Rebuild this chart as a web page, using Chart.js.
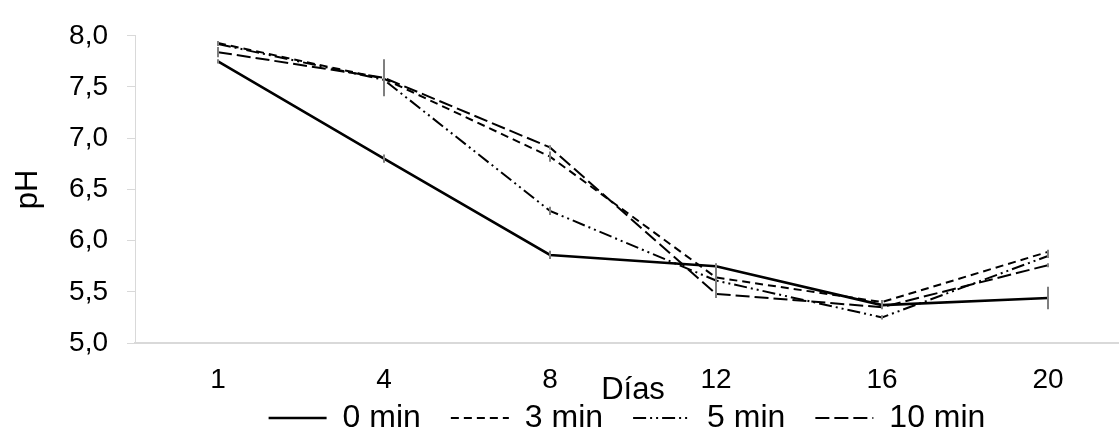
<!DOCTYPE html>
<html>
<head>
<meta charset="utf-8">
<script src="https://cdn.jsdelivr.net/npm/chart.js@4/dist/chart.umd.min.js"></script>
<style>
  html, body { margin: 0; padding: 0; background: #fff; overflow: hidden; }
  canvas { display: block; }
</style>
</head>
<body>
<canvas id="c" width="1135" height="470"></canvas>
<script>
// ---- data ----
const days = ['1', '4', '8', '12', '16', '20'];
const seriesNames = ['0 min', '3 min', '5 min', '10 min'];
const ph0 = [7.75, 6.80, 5.86, 5.75, 5.37, 5.44];
const ph3 = [7.93, 7.58, 6.82, 5.64, 5.40, 5.89];
const ph5 = [7.92, 7.57, 6.29, 5.61, 5.25, 5.85];
const ph10 = [7.84, 7.59, 6.91, 5.48, 5.35, 5.76];
const err0 = [0.02, 0.04, 0.04, 0.02, 0.02, 0.11];
const err3 = [0.02, 0.02, 0.05, 0.02, 0.02, 0.02];
const err5 = [0.02, 0.02, 0.04, 0.17, 0.02, 0.02];
const err10 = [0.05, 0.18, 0.02, 0.02, 0.02, 0.02];
const yTickLabels = ['5,0', '5,5', '6,0', '6,5', '7,0', '7,5', '8,0'];
const yMin = 5, yMax = 8, yStep = 0.5;

const FONT = "'Liberation Sans', Arial, sans-serif";

const styles = [
  { width: 2.6, dash: [] },
  { width: 2, dash: [8, 5] },
  { width: 2, dash: [13, 4, 2, 4, 2, 4] },
  { width: 2, dash: [14, 5] }
];
const values = [ph0, ph3, ph5, ph10];
const errors = [err0, err3, err5, err10];

const datasets = seriesNames.map((name, i) => ({
  label: name,
  data: values[i],
  errors: errors[i],
  borderColor: '#000',
  backgroundColor: '#000',
  borderWidth: styles[i].width,
  borderDash: styles[i].dash,
  pointRadius: 0,
  pointHoverRadius: 0,
  pointStyle: 'line',
  tension: 0,
  fill: false
}));

const errorBars = {
  id: 'errorBars',
  afterDatasetsDraw(chart) {
    const ctx = chart.ctx;
    const yScale = chart.scales.y;
    ctx.save();
    ctx.strokeStyle = '#7f7f7f';
    ctx.lineWidth = 2;
    ctx.setLineDash([]);
    chart.data.datasets.forEach((ds, i) => {
      const meta = chart.getDatasetMeta(i);
      meta.data.forEach((pt, j) => {
        const e = ds.errors[j];
        const v = ds.data[j];
        ctx.beginPath();
        ctx.moveTo(pt.x, yScale.getPixelForValue(v + e));
        ctx.lineTo(pt.x, yScale.getPixelForValue(v - e));
        ctx.stroke();
      });
    });
    ctx.restore();
  }
};

// lift the legend row so it sits just under the axis title, as in the original
const legendLift = {
  id: 'legendLift',
  afterLayout(chart) {
    const lg = chart.legend;
    if (lg) { lg.top -= 26; lg.bottom -= 26; lg.left -= 6; lg.right -= 6; }
  }
};

new Chart(document.getElementById('c'), {
  type: 'line',
  data: { labels: days, datasets },
  plugins: [errorBars, legendLift],
  options: {
    responsive: false,
    animation: false,
    devicePixelRatio: 1,
    layout: { padding: { top: 24.5, right: 4, bottom: 0, left: 0 } },
    plugins: {
      tooltip: { enabled: false },
      legend: {
        position: 'bottom',
        fullSize: false,
        labels: {
          usePointStyle: true,
          pointStyle: 'line',
          pointStyleWidth: 58,
          padding: 30,
          color: '#000',
          font: { family: FONT, size: 32 },
          generateLabels(chart) {
            const items = Chart.defaults.plugins.legend.labels.generateLabels(chart);
            return items.map((it) => {
              const ds = chart.data.datasets[it.datasetIndex];
              return Object.assign(it, {
                lineDash: ds.borderDash,
                lineWidth: ds.borderWidth,
                strokeStyle: ds.borderColor,
                fillStyle: ds.borderColor,
                pointStyle: 'line'
              });
            });
          }
        }
      }
    },
    scales: {
      x: {
        type: 'category',
        offset: true,
        grid: { display: true, drawOnChartArea: false, drawTicks: false },
        border: { display: true, color: '#d9d9d9', width: 2 },
        ticks: { color: '#000', padding: 20, font: { family: FONT, size: 28 }, maxRotation: 0 },
        title: {
          display: true,
          text: 'Días',
          color: '#000',
          font: { family: FONT, size: 31 },
          padding: { top: 0, bottom: -10.6 }
        },
        afterFit(scale) { scale.height = 55; }
      },
      y: {
        min: yMin,
        max: yMax,
        grid: { drawOnChartArea: false, drawTicks: true, tickLength: 8, color: '#d9d9d9', lineWidth: 1 },
        border: { display: true, color: '#d9d9d9', width: 1 },
        ticks: {
          stepSize: yStep,
          color: '#000',
          padding: 19,
          font: { family: FONT, size: 28 },
          callback: (v) => yTickLabels[Math.round((v - yMin) / yStep)]
        },
        title: {
          display: true,
          text: 'pH',
          color: '#000',
          font: { family: FONT, size: 31 },
          padding: { top: 9.4, bottom: 0 }
        },
        afterFit(scale) { scale.width = 135; }
      }
    }
  }
});
</script>
</body>
</html>
